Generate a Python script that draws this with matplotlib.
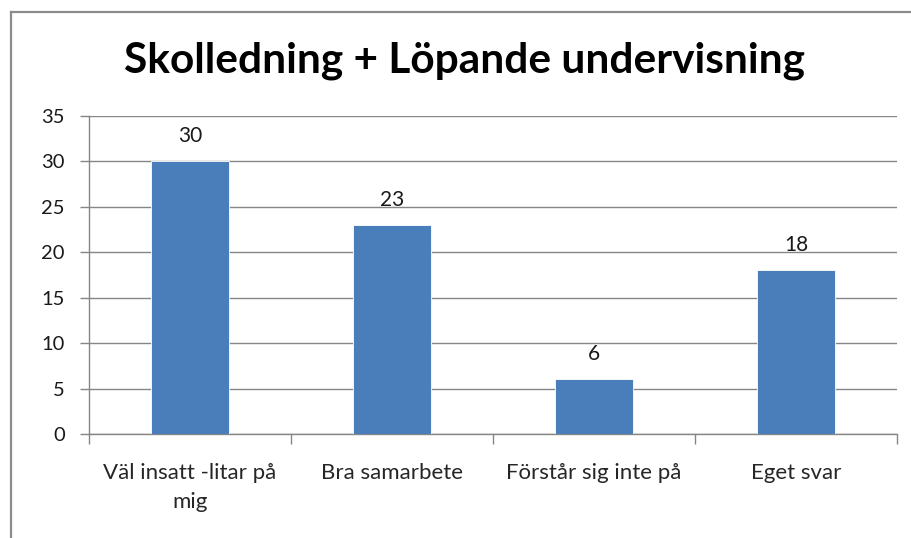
import matplotlib
matplotlib.use("Agg")
import matplotlib.pyplot as plt
from matplotlib.lines import Line2D

categories = ["Väl insatt -litar på\nmig", "Bra samarbete", "Förstår sig inte på", "Eget svar"]
values = [30, 23, 6, 18]
yticks = [0, 5, 10, 15, 20, 25, 30, 35]
title = "Skolledning + Löpande undervisning"

W, H = 911, 538
fig = plt.figure(figsize=(W / 100, H / 100), dpi=100)
plt.rcParams['font.family'] = ['Lato', 'DejaVu Sans']

ax = fig.add_axes([89 / W, 1 - 434 / H, (897 - 89) / W, (434 - 116) / H])

x = list(range(len(categories)))
bars = ax.bar(x, values, width=0.39, color="#4A7EBB", edgecolor="#FFFFFF", linewidth=0.6, zorder=3)

ax.set_xlim(-0.5, len(categories) - 0.5)
ax.set_ylim(0, 35)
ax.set_yticks(yticks)
ax.set_yticklabels([str(v) for v in yticks], fontsize=14.5, color="#1a1a1a")
ax.yaxis.grid(True, color="#868686", linewidth=1.0, zorder=0)
ax.set_axisbelow(True)

ax.set_xticks(x)
ax.set_xticklabels(categories, fontsize=16, color="#262626", linespacing=1.55)
ax.tick_params(axis="x", length=0, pad=21)
ax.set_xticks([i - 0.5 for i in range(len(categories) + 1)], minor=True)
ax.tick_params(axis="x", which="minor", length=7, color="#868686", width=1.0)
ax.tick_params(axis="y", length=6.5, color="#868686", width=1.0, pad=11)

for s in ["top", "right"]:
    ax.spines[s].set_visible(False)
for s in ["left", "bottom"]:
    ax.spines[s].set_color("#868686")
    ax.spines[s].set_linewidth(1.0)

for xi, v in zip(x, values):
    ax.annotate(str(v), (xi, v), xytext=(0, 11), textcoords="offset points",
                ha="center", va="bottom", fontsize=15, color="#1a1a1a")

fig.text(465 / W, 1 - 73 / H, title, ha="center", va="baseline",
         fontsize=30.5, fontweight="bold", color="#000000")

# outer chart border (left and top visible)
fig.add_artist(Line2D([11 / W, 11 / W], [0, 1 - 12 / H], transform=fig.transFigure,
                      color="#8c8c8c", linewidth=1.6))
fig.add_artist(Line2D([11 / W, 1], [1 - 12 / H, 1 - 12 / H], transform=fig.transFigure,
                      color="#8c8c8c", linewidth=1.6))

fig.savefig("out.png", dpi=100)
